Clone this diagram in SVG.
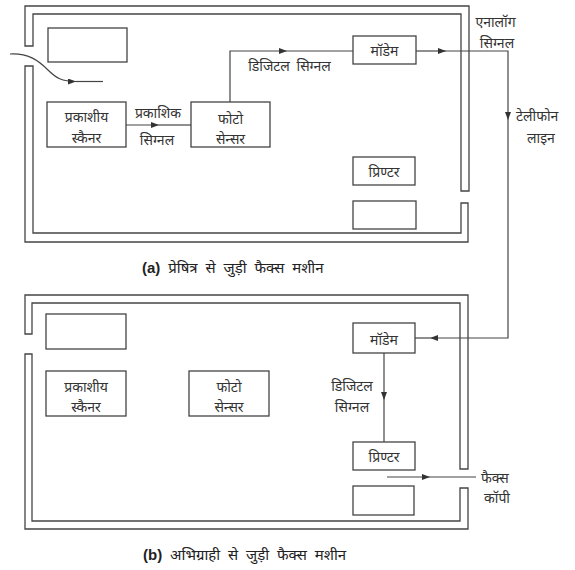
<svg xmlns="http://www.w3.org/2000/svg" width="575" height="570" viewBox="0 0 575 570">
<defs>
<style>
.wall{fill:none;stroke:#444;stroke-width:1.3}
.box{fill:#fff;stroke:#444;stroke-width:1.3}
.ln{fill:none;stroke:#444;stroke-width:1.2}
.t{font-family:"Noto Sans","Noto Sans Devanagari","Lohit Devanagari","FreeSans",sans-serif;font-size:14px;fill:#333;text-anchor:middle;dominant-baseline:central;word-spacing:3px}
.cap{font-family:"Noto Sans","Noto Sans Devanagari","Lohit Devanagari","FreeSans",sans-serif;font-size:15px;fill:#222;dominant-baseline:central;word-spacing:4px}
.b{font-family:"Liberation Sans",Arial,sans-serif;font-weight:bold;word-spacing:0}
</style>
<marker id="ah" viewBox="0 0 8 6" refX="8" refY="3" markerWidth="8" markerHeight="6" markerUnits="userSpaceOnUse" orient="auto">
<path d="M0,0 L8,3 L0,6 z" fill="#333"/>
</marker>
</defs>
<rect width="575" height="570" fill="#fff"/>

<!-- (a) sender fax machine -->
<g id="machineA">
<path class="wall" d="M25,46 L25,6 L469,6 L469,191 L461,191 L461,14 L33,14 L33,46 Z"/>
<path class="wall" d="M25,66 L33,66 L33,233 L461,233 L461,203 L468,203 L468,242 L25,242 Z"/>
</g>
<g id="a-tray"><rect class="box" x="48" y="28" width="79" height="34"/></g>
<g id="a-scanner"><rect class="box" x="47" y="102" width="79" height="45"/>
<text class="t" x="86.5" y="116">प्रकाशीय</text><text class="t" x="86.5" y="137">स्कैनर</text></g>
<g id="a-sensor"><rect class="box" x="191" y="102" width="79" height="45"/>
<text class="t" x="230.5" y="118">फोटो</text><text class="t" x="230.5" y="138">सेन्सर</text></g>
<g id="a-modem"><rect class="box" x="353" y="36" width="63" height="28"/>
<text class="t" x="384.5" y="50">मॉडेम</text></g>
<g id="a-printer"><rect class="box" x="353" y="157" width="62" height="28"/>
<text class="t" x="384" y="171">प्रिण्टर</text></g>
<g id="a-out"><rect class="box" x="353" y="201" width="63" height="28"/></g>
<text class="cap" x="142" y="267"><tspan class="b">(a)</tspan> प्रेषित्र से जुड़ी फैक्स मशीन</text>

<!-- (b) receiver fax machine -->
<g id="machineB">
<path class="wall" d="M25,334 L25,295 L468,295 L468,469 L460,469 L460,303 L32,303 L32,334 Z"/>
<path class="wall" d="M25,354 L32,354 L32,521 L460,521 L460,488 L468,488 L468,529 L25,529 Z"/>
</g>
<g id="b-tray"><rect class="box" x="46" y="314" width="80" height="35"/></g>
<g id="b-scanner"><rect class="box" x="46" y="371" width="80" height="45"/>
<text class="t" x="86" y="386">प्रकाशीय</text><text class="t" x="86" y="406">स्कैनर</text></g>
<g id="b-sensor"><rect class="box" x="189" y="371" width="80" height="45"/>
<text class="t" x="229" y="386">फोटो</text><text class="t" x="229" y="406">सेन्सर</text></g>
<g id="b-modem"><rect class="box" x="353" y="323" width="62" height="30"/>
<text class="t" x="384" y="339">मॉडेम</text></g>
<g id="b-printer"><rect class="box" x="353" y="442" width="62" height="28"/>
<text class="t" x="384" y="456">प्रिण्टर</text></g>
<g id="b-out"><rect class="box" x="353" y="486" width="61" height="29"/></g>
<text class="cap" x="143" y="554"><tspan class="b">(b)</tspan> अभिग्राही से जुड़ी फैक्स मशीन</text>

<!-- connectors -->
<g id="connectors">
<path class="ln" d="M10,54 C28,53 38,60 48,70 C56,78 62,81.5 76,81.5" marker-end="url(#ah)"/>
<path class="ln" d="M76,81.5 L103,81.5"/>
<path class="ln" d="M126,125 L159,125" marker-end="url(#ah)"/>
<path class="ln" d="M159,125 L191,125"/>
<path class="ln" d="M230,102 L230,51 L287,51" marker-end="url(#ah)"/>
<path class="ln" d="M287,51 L353,51"/>
<path class="ln" d="M416,51 L446,51" marker-end="url(#ah)"/>
<path class="ln" d="M446,51 L508,51 L508,120" marker-end="url(#ah)"/>
<path class="ln" d="M508,120 L508,338 L430,338" marker-end="url(#ah)"/>
<path class="ln" d="M430,338 L415,338"/>
<path class="ln" d="M384,353 L384,400" marker-end="url(#ah)"/>
<path class="ln" d="M384,400 L384,442"/>
<path class="ln" d="M387,477 L430,477" marker-end="url(#ah)"/>
<path class="ln" d="M430,477 L476,477"/>
</g>

<g id="labels">
<text class="t" x="158" y="112">प्रकाशिक</text>
<text class="t" x="157" y="139">सिग्नल</text>
<text class="t" x="289.5" y="65">डिजिटल सिग्नल</text>
<text class="t" x="495.5" y="21">एनालॉग</text>
<text class="t" x="497" y="42">सिग्नल</text>
<text class="t" x="516" y="115" style="text-anchor:start">टेलीफोन</text>
<text class="t" x="541" y="137">लाइन</text>
<text class="t" x="352" y="385">डिजिटल</text>
<text class="t" x="352" y="406">सिग्नल</text>
<text class="t" x="481" y="477" style="text-anchor:start">फैक्स</text>
<text class="t" x="497" y="497">कॉपी</text>
</g>
</svg>
